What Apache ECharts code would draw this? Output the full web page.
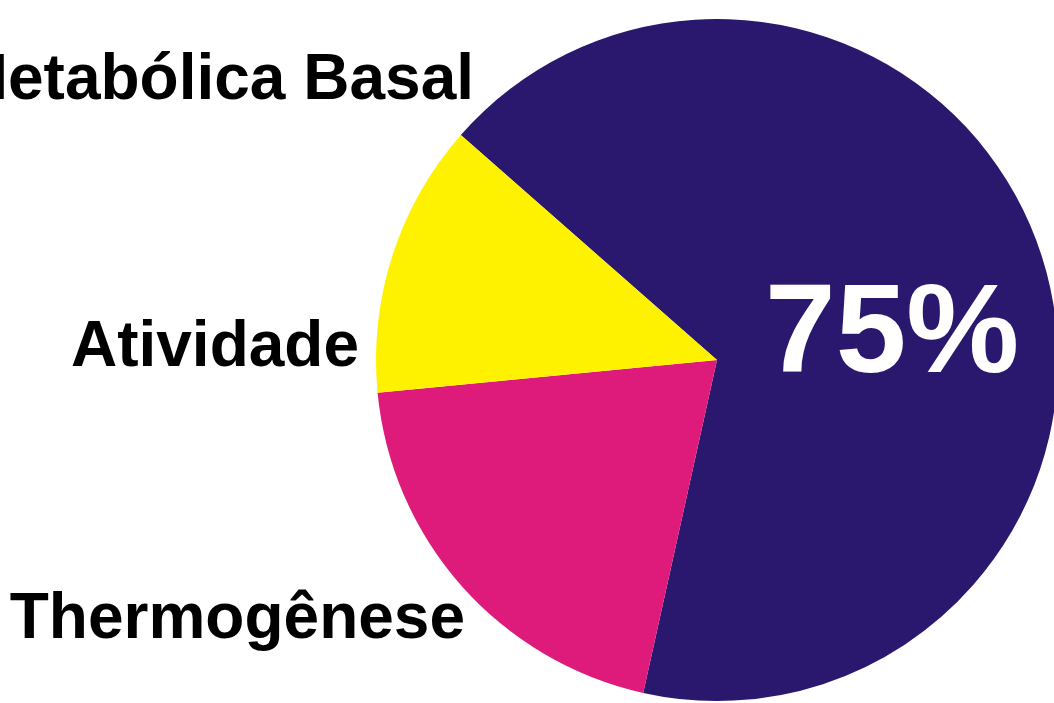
<!DOCTYPE html>
<html>
<head>
<meta charset="utf-8">
<script src="https://cdn.jsdelivr.net/npm/echarts@6/dist/echarts.min.js"></script>
<style>
html,body{margin:0;padding:0;background:#fff;}
#c{width:1054px;height:703px;}
</style>
</head>
<body>
<div id="c"></div>
<script>
var categories = ['Metabólica Basal', 'Thermogênese', 'Atividade'];
var values = [67, 20, 13];
var colors = ['#29186e', '#de1b7a', '#fff200'];
var insideLabels = ['75%'];

var labelPos = [
  {x: 474, y: 81},
  {x: 465, y: 620},
  {x: 359, y: 348}
];

var chart = echarts.init(document.getElementById('c'));
chart.setOption({
  backgroundColor: '#ffffff',
  animation: false,
  series: [{
    type: 'pie',
    center: [717, 360],
    radius: 341,
    startAngle: 138.7,
    clockwise: true,
    silent: true,
    avoidLabelOverlap: false,
    data: categories.map(function (n, i) {
      return {name: n, value: values[i], itemStyle: {color: colors[i]}};
    }),
    label: {
      show: true,
      position: 'outside',
      formatter: '{b}',
      color: '#000',
      fontFamily: 'Liberation Sans, Arial, sans-serif',
      fontWeight: 'bold',
      fontSize: 64,
      overflow: 'none',
      width: 700
    },
    labelLine: {show: false},
    labelLayout: function (p) {
      var pos = labelPos[p.dataIndex];
      return {x: pos.x, y: pos.y, align: 'right', verticalAlign: 'middle', hideOverlap: false, moveOverlap: null};
    }
  }],
  graphic: [{
    type: 'text',
    x: 765,
    y: 273,
    z: 100,
    style: {
      text: insideLabels[0],
      fill: '#ffffff',
      fontSize: 127,
      fontWeight: 'bold',
      fontFamily: 'Liberation Sans, Arial, sans-serif'
    }
  }]
});
</script>
</body>
</html>
